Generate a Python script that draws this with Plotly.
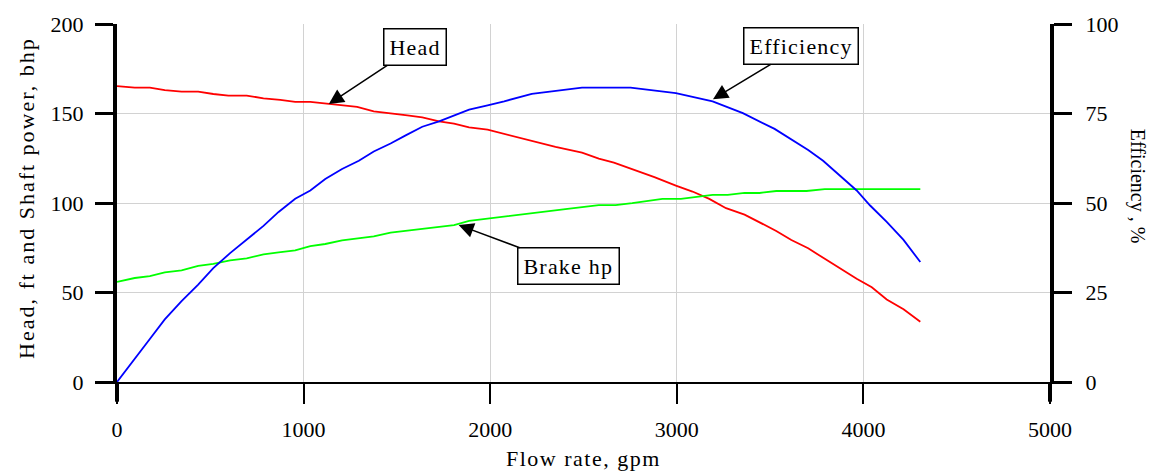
import plotly.graph_objects as go

# ---------------- data ----------------
head_flow = [0, 95, 176, 256, 346, 435, 516, 597, 695, 785, 875, 955, 1036, 1143, 1287,
             1376, 1466, 1556, 1636, 1726, 1806, 1887, 1986, 2075, 2223, 2350, 2492, 2582,
             2663, 2761, 2880, 2995, 3084, 3174, 3264, 3363, 3443, 3533, 3614, 3704, 3793,
             3883, 3964, 4045, 4125, 4215, 4305]
head_ft = [165.3, 164.4, 164.4, 163.1, 162.2, 162.2, 160.9, 160.0, 160.0, 158.5, 157.6, 156.5,
           156.5, 155.4, 153.7, 151.2, 150.2, 148.9, 147.8, 145.6, 144.3, 142.3, 141.0, 138.6,
           134.6, 131.3, 128.1, 124.8, 122.6, 118.9, 114.5, 109.7, 106.4, 102.3, 97.1, 93.5,
           89.0, 84.4, 79.3, 74.7, 68.8, 62.7, 57.7, 52.9, 46.1, 40.6, 33.7]

eff_flow = [0, 86, 176, 256, 346, 435, 516, 606, 695, 785, 866, 955, 1036, 1116, 1206, 1296,
            1376, 1466, 1547, 1636, 1726, 1806, 1887, 1986, 2075, 2223, 2360, 2492, 2752,
            2995, 3192, 3354, 3524, 3704, 3784, 3874, 3964, 4036, 4125, 4215, 4305]
eff_pct = [0.0, 6.0, 12.0, 17.5, 22.6, 27.2, 31.8, 36.0, 39.7, 43.6, 47.5, 51.2, 53.5, 56.7,
           59.5, 61.8, 64.4, 66.6, 68.9, 71.3, 72.8, 74.5, 76.1, 77.3, 78.4, 80.5, 81.3, 82.2,
           82.2, 80.7, 78.4, 75.1, 70.7, 64.8, 61.8, 57.6, 53.5, 49.3, 44.7, 39.7, 33.5]

bhp_flow = [0, 95, 176, 256, 346, 435, 516, 606, 695, 785, 866, 955, 1036, 1116, 1206, 1296,
            1376, 1466, 1547, 1636, 1726, 1806, 1887, 1986, 2075, 2223, 2403, 2582, 2672,
            2761, 2923, 3022, 3102, 3192, 3273, 3363, 3443, 3533, 3695, 3793, 4305]
bhp = [55.9, 58.1, 59.2, 61.2, 62.3, 64.9, 66.0, 68.0, 69.1, 71.3, 72.4, 73.5, 75.9, 77.1,
       79.1, 80.2, 81.3, 83.5, 84.4, 85.5, 86.6, 87.7, 90.0, 91.2, 92.2, 94.4, 96.6, 98.8,
       98.8, 99.9, 102.3, 102.3, 103.4, 104.5, 104.5, 105.6, 105.6, 106.7, 106.7, 107.8, 107.8]

x_ticks = [0, 1000, 2000, 3000, 4000, 5000]
left_ticks = [0, 50, 100, 150, 200]
right_ticks = [0, 25, 50, 75, 100]

# ---------------- figure ----------------
FONT = "Liberation Serif"


def spaced(t, px=2):
    return f'<span style="letter-spacing:{px}px">{t}</span>'


fig = go.Figure()
fig.add_trace(go.Scatter(x=head_flow, y=head_ft, mode="lines", name="Head",
                         line=dict(color="#ff0000", width=1.8)))
fig.add_trace(go.Scatter(x=bhp_flow, y=bhp, mode="lines", name="Brake hp",
                         line=dict(color="#00ff00", width=1.8)))
fig.add_trace(go.Scatter(x=eff_flow, y=eff_pct, mode="lines", name="Efficiency",
                         yaxis="y2", line=dict(color="#0000ff", width=1.8)))

tickfont = dict(family=FONT, size=22, color="black")
fig.update_layout(
    width=1149, height=472,
    margin=dict(l=117, r=99, t=20, b=90),
    plot_bgcolor="white", paper_bgcolor="white",
    showlegend=False,
    font=dict(family=FONT, size=22, color="black"),
    xaxis=dict(range=[0, 5000], tickvals=x_ticks, ticktext=[str(v) for v in x_ticks],
               tickfont=tickfont,
               showgrid=True, gridcolor="#d2d2d2", gridwidth=1,
               showline=True, linecolor="black", linewidth=2,
               ticks="outside", ticklen=20, tickwidth=2, tickcolor="black",
               ticklabelstandoff=7, zeroline=False),
    yaxis=dict(range=[0, 200], tickvals=left_ticks, ticktext=[str(v) for v in left_ticks],
               tickfont=tickfont,
               showgrid=True, gridcolor="#d2d2d2", gridwidth=1,
               showline=True, linecolor="black", linewidth=4,
               ticks="outside", ticklen=18, tickwidth=2.5, tickcolor="black",
               ticklabelstandoff=7, zeroline=False),
    yaxis2=dict(range=[0, 100], tickvals=right_ticks, ticktext=[str(v) for v in right_ticks],
                tickfont=tickfont,
                overlaying="y", side="right", showgrid=False,
                showline=True, linecolor="black", linewidth=4,
                ticks="outside", ticklen=18, tickwidth=2.5, tickcolor="black",
                ticklabelstandoff=9, zeroline=False),
)

# thick axis extensions below zero
for xp in (0, 1):
    fig.add_shape(type="line", xref="paper", yref="paper", x0=xp, x1=xp, y0=-0.055, y1=0,
                  line=dict(color="black", width=4))

# axis titles
tfont = dict(family=FONT, size=22, color="black")
fig.add_annotation(text=spaced("Flow rate, gpm", 1.5), xref="paper", yref="paper",
                   x=0.5, y=-0.215, showarrow=False, xanchor="center", yanchor="middle",
                   font=tfont)
fig.add_annotation(text=spaced("Head, ft and Shaft power, bhp", 2), xref="paper", yref="paper",
                   x=-0.0965, y=0.514, showarrow=False, textangle=-90,
                   xanchor="center", yanchor="middle", font=tfont)
fig.add_annotation(text="Efficiency , %", xref="paper", yref="paper",
                   x=1.094, y=0.546, showarrow=False, textangle=90,
                   xanchor="center", yanchor="middle",
                   font=dict(family=FONT, size=20, color="black"))

# callouts
callouts = [
    ("Head", 1135, 155.3, 86, -57),
    ("Efficiency", 3194, 158.0, 88, -53),
    ("Brake hp", 1831, 87.7, 110, 41),
]
for txt, x, y, ax, ay in callouts:
    fig.add_annotation(text=spaced(txt, 1.2), x=x, y=y, xref="x", yref="y",
                       ax=ax, ay=ay, showarrow=True, arrowhead=2, arrowsize=2,
                       arrowwidth=1.5, arrowcolor="black",
                       bordercolor="black", borderwidth=1.5, borderpad=5,
                       bgcolor="white", font=tfont)

fig.write_html("out.html")
